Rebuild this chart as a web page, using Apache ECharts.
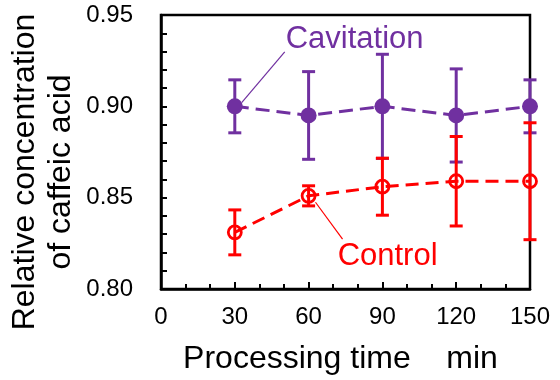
<!DOCTYPE html>
<html><head><meta charset="utf-8">
<script src="https://cdn.jsdelivr.net/npm/echarts@6/dist/echarts.min.js"></script>
<style>html,body{margin:0;padding:0;background:#fff}#c{width:560px;height:380px}</style>
</head><body><div id="c"></div>
<script>
var times = [30, 60, 90, 120, 150];
var cavMean = [0.900, 0.895, 0.900, 0.895, 0.900];
var cavErr  = [0.0145, 0.024, 0.0285, 0.0255, 0.0145];
var ctrlMean = [0.831, 0.851, 0.856, 0.859, 0.859];
var ctrlErr  = [0.0123, 0.0055, 0.0156, 0.0245, 0.032];
var xTicks = [0, 30, 60, 90, 120, 150];
var yTicks = [0.80, 0.85, 0.90, 0.95];

var PURPLE = '#7030A0', RED = '#FF0000';
var FONT = '"Liberation Sans", Arial, sans-serif';

function pts(m){ return times.map(function(t,i){ return [t, m[i]]; }); }
function errData(m, e){ return times.map(function(t,i){ return [t, m[i]-e[i], m[i]+e[i]]; }); }
function errSeries(m, e, color, z){
  return {
    type: 'custom', z: z, silent: true,
    data: errData(m, e),
    renderItem: function(params, api){
      var lo = api.coord([api.value(0), api.value(1)]);
      var hi = api.coord([api.value(0), api.value(2)]);
      var w = 6.5;
      var st = {stroke: color, lineWidth: 3};
      return {type: 'group', children: [
        {type:'line', shape:{x1:lo[0], y1:lo[1], x2:hi[0], y2:hi[1]}, style: st},
        {type:'line', shape:{x1:lo[0]-w, y1:lo[1], x2:lo[0]+w, y2:lo[1]}, style: st},
        {type:'line', shape:{x1:hi[0]-w, y1:hi[1], x2:hi[0]+w, y2:hi[1]}, style: st}
      ]};
    }
  };
}

var chart = echarts.init(document.getElementById('c'), null, {renderer:'canvas'});
chart.setOption({
  animation: false,
  backgroundColor: '#fff',
  textStyle: {fontFamily: FONT},
  grid: {left: 161, right: 30, top: 15, bottom: 90, show: true, borderColor: '#000', borderWidth: 2.5},
  xAxis: {
    type: 'value', min: 0, max: 150, interval: 30,
    name: 'Processing time    min', nameLocation: 'middle', nameGap: 54,
    nameTextStyle: {fontSize: 32, color: '#000', fontFamily: FONT, padding: [0, 10, 0, 0]},
    axisLine: {show: true, lineStyle: {color: '#000', width: 2.5}},
    axisTick: {show: true, inside: true, length: 7, lineStyle: {color: '#000', width: 2}},
    minorTick: {show: true, splitNumber: 3, length: 5, lineStyle: {color: '#000', width: 2}},
    axisLabel: {fontSize: 24, color: '#000', margin: 16, fontFamily: FONT,
      formatter: function(v){ return xTicks.indexOf(v) >= 0 ? String(v) : ''; }},
    splitLine: {show: false}
  },
  yAxis: {
    type: 'value', min: 0.80, max: 0.95, interval: 0.05,
    axisLine: {show: true, lineStyle: {color: '#000', width: 2.5}},
    axisTick: {show: true, inside: true, length: 6, lineStyle: {color: '#000', width: 2}},
    minorTick: {show: true, splitNumber: 5, length: 6, lineStyle: {color: '#000', width: 2}},
    axisLabel: {fontSize: 24, color: '#000', margin: 28, fontFamily: FONT,
      formatter: function(v){ return v.toFixed(2); }},
    splitLine: {show: false}
  },
  series: [
    errSeries(cavMean, cavErr, PURPLE, 2),
    {type: 'line', z: 3, data: pts(cavMean), symbol: 'circle', symbolSize: 16,
      lineStyle: {color: PURPLE, width: 3, type: [14, 7]},
      itemStyle: {color: PURPLE, borderWidth: 0}},
    errSeries(ctrlMean, ctrlErr, RED, 4),
    {type: 'line', z: 5, data: pts(ctrlMean), symbol: 'circle', symbolSize: 13,
      lineStyle: {color: RED, width: 3, type: [13, 7]},
      itemStyle: {color: 'rgba(255,255,255,0)', borderColor: RED, borderWidth: 2.8}}
  ]
});

function px(x, y){ return chart.convertToPixel({gridIndex: 0}, [x, y]); }
var cL = px(50.7, 0.9364), cA = px(50.3, 0.9298), cB = px(32.8, 0.9020);
var rL = px(71.8, 0.8180), rA = px(73.8, 0.8273), rB = px(62.8, 0.8475);
chart.setOption({graphic: [
  {type: 'text', x: 43, y: 172, rotation: Math.PI/2,
    style: {text: 'Relative concentration\nof caffeic acid', font: '32px ' + FONT, fill: '#000',
      textAlign: 'center', textVerticalAlign: 'middle', lineHeight: 36}},
  {type: 'text', x: cL[0], y: cL[1],
    style: {text: 'Cavitation', font: '31px ' + FONT, fill: PURPLE, textAlign: 'left', textVerticalAlign: 'middle'}},
  {type: 'line', shape: {x1: cA[0], y1: cA[1], x2: cB[0], y2: cB[1]}, style: {stroke: PURPLE, lineWidth: 1.2}},
  {type: 'text', x: rL[0], y: rL[1],
    style: {text: 'Control', font: '31px ' + FONT, fill: RED, textAlign: 'left', textVerticalAlign: 'middle'}},
  {type: 'line', shape: {x1: rA[0], y1: rA[1], x2: rB[0], y2: rB[1]}, style: {stroke: RED, lineWidth: 1.2}}
]});
</script></body></html>
